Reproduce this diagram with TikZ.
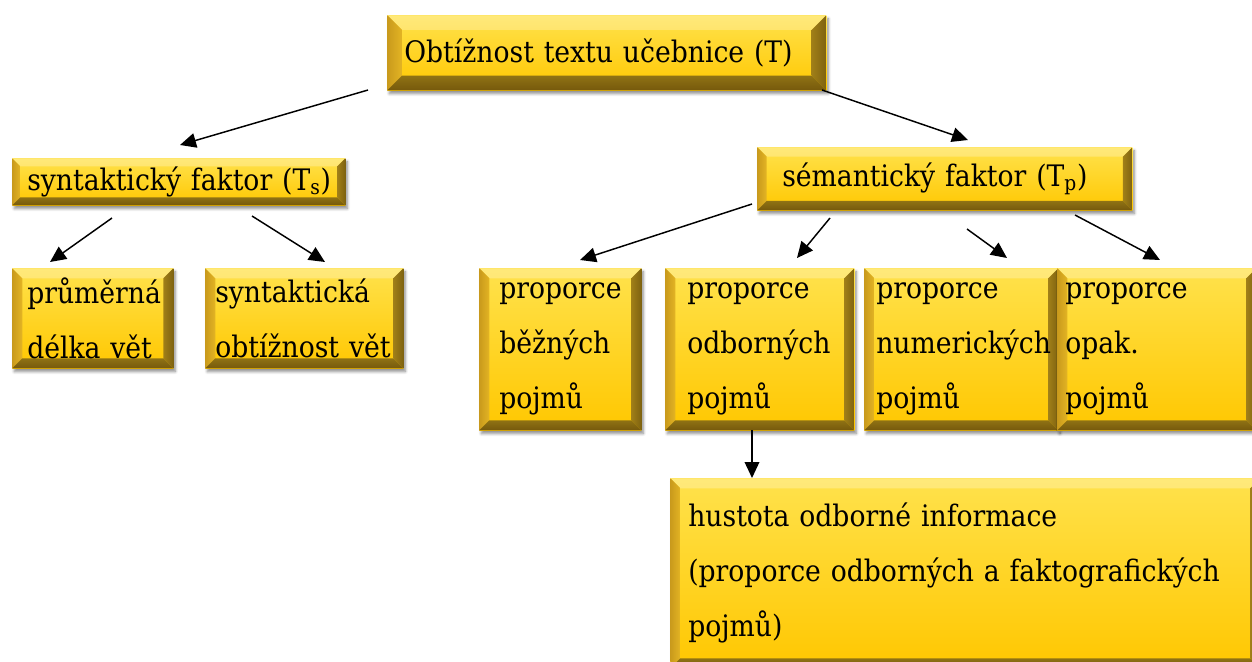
\documentclass[tikz,border=0pt]{standalone}
\usepackage{fontspec}
\setmainfont{DejaVu Serif Condensed}
\usetikzlibrary{arrows.meta,shadows.blur}

\definecolor{faceTop}{HTML}{FFE24C}
\definecolor{faceBot}{HTML}{FFC700}
\definecolor{bevTopA}{HTML}{FFE97A}
\definecolor{bevTopB}{HTML}{FFD43A}
\definecolor{bevLeftA}{HTML}{C99A1C}
\definecolor{bevLeftB}{HTML}{E3B424}
\definecolor{bevRightA}{HTML}{A07F18}
\definecolor{bevRightB}{HTML}{7E6210}
\definecolor{bevBotA}{HTML}{8F7214}
\definecolor{bevBotB}{HTML}{76590C}

\def\bv{7.5pt}
\tikzset{
  bevel/.code={\def\bv{#1}},
  goldbox/.style={
    rectangle, anchor=north west, draw=none, inner ysep=0pt, align=left,
    font=\fontsize{22.2}{41.25}\selectfont,
    top color=faceTop, bottom color=faceBot,
    blur shadow={shadow xshift=1.5pt, shadow yshift=-2.5pt,
                 shadow blur steps=6, shadow opacity=45},
    path picture={
      % top bevel
      \shade[top color=bevTopA, bottom color=bevTopB]
        (path picture bounding box.north west) -- (path picture bounding box.north east)
        -- ([xshift=-\bv,yshift=-\bv]path picture bounding box.north east)
        -- ([xshift=\bv,yshift=-\bv]path picture bounding box.north west) -- cycle;
      % left bevel
      \shade[left color=bevLeftA, right color=bevLeftB]
        (path picture bounding box.north west) -- (path picture bounding box.south west)
        -- ([xshift=\bv,yshift=\bv]path picture bounding box.south west)
        -- ([xshift=\bv,yshift=-\bv]path picture bounding box.north west) -- cycle;
      % right bevel
      \shade[left color=bevRightA, right color=bevRightB]
        (path picture bounding box.north east) -- (path picture bounding box.south east)
        -- ([xshift=-\bv,yshift=\bv]path picture bounding box.south east)
        -- ([xshift=-\bv,yshift=-\bv]path picture bounding box.north east) -- cycle;
      % bottom bevel
      \shade[top color=bevBotA, bottom color=bevBotB]
        (path picture bounding box.south west) -- (path picture bounding box.south east)
        -- ([xshift=-\bv,yshift=\bv]path picture bounding box.south east)
        -- ([xshift=\bv,yshift=\bv]path picture bounding box.south west) -- cycle;
    }
  },
  arr/.style={line width=1.1pt, -{Triangle[length=12pt,width=11pt]}}
}

\begin{document}
\begin{tikzpicture}[x=0.75pt, y=-0.75pt]
\useasboundingbox (0,0) rectangle (1252,661);

% top level
\node[goldbox, bevel=11pt, minimum width=329.25pt, minimum height=56.25pt,
      inner xsep=12.75pt, text width=303.75pt] (T) at (387,15)
  {\mbox{Obtížnost textu učebnice (T)}};

% second level
\node[goldbox, bevel=6pt, minimum width=249.75pt, minimum height=35.25pt,
      inner xsep=11.25pt, text width=227.25pt] (Ts) at (12,158)
  {\mbox{syntaktický faktor (T\textsubscript{s})}};
\node[goldbox, bevel=7pt, minimum width=281.25pt, minimum height=47.25pt,
      inner xsep=18.75pt, text width=243.75pt] (Tp) at (757,147)
  {\mbox{sémantický faktor (T\textsubscript{p})}};

% syntactic factors
\node[goldbox, minimum width=120.75pt, minimum height=75pt,
      inner xsep=11.25pt, text width=98.25pt] (prum) at (12,268)
  {průměrná\\délka vět};
\node[goldbox, minimum width=148.5pt, minimum height=75pt,
      inner xsep=7.5pt, text width=133.5pt] (synt) at (205,268)
  {syntaktická\\obtížnost vět};

% semantic factors
\node[goldbox, minimum width=121.5pt, minimum height=121.5pt,
      inner xsep=15pt, text width=91.5pt] (bezn) at (479,268)
  {proporce\\běžných\\pojmů};
\node[goldbox, minimum width=141.75pt, minimum height=121.5pt,
      inner xsep=16.5pt, text width=108.75pt] (odb) at (665,268)
  {proporce\\odborných\\pojmů};
\node[goldbox, minimum width=145.5pt, minimum height=121.5pt,
      inner xsep=9pt, text width=127.5pt] (num) at (864,268)
  {proporce\\numerických\\pojmů};
\node[goldbox, minimum width=149.25pt, minimum height=121.5pt,
      inner xsep=6pt, text width=137.25pt] (opak) at (1057,268)
  {proporce\\opak.\\pojmů};

% density of technical information
\node[goldbox, minimum width=442.5pt, minimum height=142.5pt,
      inner xsep=13.5pt, text width=415.5pt] (hust) at (670,478)
  {hustota odborné informace\\(proporce odborných a faktografických\\pojmů)};

% connector end points
\coordinate (T-l)   at (368,90);   \coordinate (Ts-in)  at (180,145);
\coordinate (T-r)   at (822,90);   \coordinate (Tp-in)  at (968,140);
\coordinate (Ts-l)  at (112,218);  \coordinate (prum-in) at (50,262);
\coordinate (Ts-r)  at (252,216);  \coordinate (synt-in) at (325,262);
\coordinate (Tp-1)  at (752,204);  \coordinate (bezn-in) at (580,260);
\coordinate (Tp-2)  at (830,218);  \coordinate (odb-in)  at (797,258);
\coordinate (Tp-3)  at (967,229);  \coordinate (num-in)  at (1007,258);
\coordinate (Tp-4)  at (1075,215); \coordinate (opak-in) at (1160,260);
\coordinate (odb-out) at (752,430); \coordinate (hust-in) at (752,478);

\draw[arr] (T-l) -- (Ts-in);
\draw[arr] (T-r) -- (Tp-in);
\draw[arr] (Ts-l) -- (prum-in);
\draw[arr] (Ts-r) -- (synt-in);
\draw[arr] (Tp-1) -- (bezn-in);
\draw[arr] (Tp-2) -- (odb-in);
\draw[arr] (Tp-3) -- (num-in);
\draw[arr] (Tp-4) -- (opak-in);
\draw[arr] (odb-out) -- (hust-in);
\end{tikzpicture}
\end{document}
